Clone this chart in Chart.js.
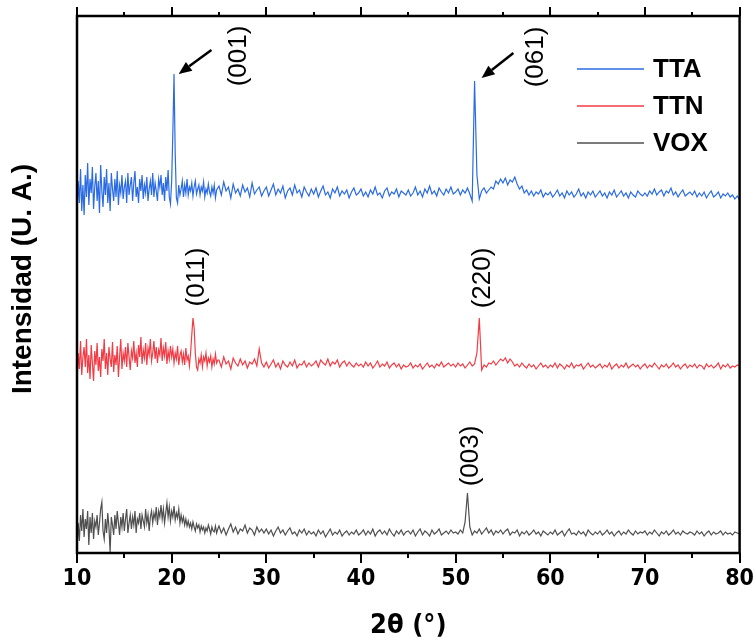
<!DOCTYPE html>
<html>
<head>
<meta charset="utf-8">
<script src="https://cdn.jsdelivr.net/npm/chart.js@4.4.1/dist/chart.umd.min.js"></script>
<style>
  html, body { margin: 0; padding: 0; background: #fff; }
  #wrap { width: 756px; height: 642px; }
</style>
</head>
<body>
<div id="wrap"><canvas id="cvs" width="756" height="642"></canvas></div>
<script>
// 2θ sampling: 0.125° from 10° to 24.875°, then 0.25° from 25° to 80°
const fineStart = 10, fineStep = 0.125, fineCount = 120;
const coarseStart = 25, coarseStep = 0.25;
const seriesNames  = ['TTA', 'TTN', 'VOX'];
const seriesColors = ['#2b6be2', '#f23c45', '#4f4f4f'];
const xTickLabels  = [10, 20, 30, 40, 50, 60, 70, 80];

// intensities (U. A.), stacked as in the figure
const ttaValues = [
  // 10 - 24.875 (0.125 step)
  335, 372, 350, 384, 342, 368, 338, 378,
  356, 390, 348, 374, 360, 386, 344, 366,
  380, 352, 372, 340, 388, 362, 346, 376,
  358, 384, 350, 370, 342, 380, 364, 352,
  374, 356, 382, 348, 368, 360, 378, 354,
  366, 372, 350, 380, 358, 368, 376, 352,
  370, 382, 356, 366, 350, 374, 362, 378,
  354, 368, 360, 376, 352, 364, 372, 358,
  380, 356, 370, 362, 352, 374, 366, 378,
  358, 370, 352, 376, 362, 383, 356, 349,
  372, 420, 479, 400, 355, 350, 368, 358,
  364, 372, 356, 368, 360, 374, 358, 366,
  362, 370, 357, 366, 372, 359, 364, 368,
  358, 366, 362, 371, 356, 364, 360, 369,
  361, 357, 366, 360, 368, 355, 363, 365,
  // 25 - 80 (0.25 step)
  367, 358, 371, 362, 366, 355, 369, 360, 364, 357, 368, 361, 365, 356, 370, 359, 363, 366, 357, 362,
  366, 357, 363, 369, 358, 364, 360, 367, 355, 362, 365, 358, 368, 360, 363, 356, 366, 361, 357, 364,
  359, 365, 356, 362, 367, 358, 361, 355, 364, 360, 366, 357, 362, 359, 363, 355, 361, 365, 358, 360,
  364, 357, 361, 356, 363, 359, 366, 358, 360, 355, 362, 365, 357, 361, 359, 364, 356, 362, 360, 358,
  363, 357, 360, 366, 358, 362, 356, 364, 360, 367, 359, 362, 357, 365, 361, 358, 364, 360, 366, 359,
  361, 364, 358, 363, 360, 365, 359, 352, 472, 378, 354, 362, 365, 360, 363, 366, 364, 372, 369, 374,
  370, 375, 368, 373, 371, 376, 369, 364, 367, 360, 363, 358, 362, 357, 361, 359, 363, 356, 360, 358,
  361, 356, 359, 363, 357, 360, 355, 362, 358, 361, 356, 359, 364, 357, 360, 355, 361, 358, 362, 356,
  359, 362, 357, 360, 355, 361, 358, 363, 356, 359, 362, 357, 360, 355, 361, 358, 356, 362, 359, 357,
  360, 357, 362, 359, 364, 358, 361, 363, 357, 362, 360, 365, 358, 361, 356, 360, 363, 357, 359, 361,
  358, 362, 356, 360, 357, 361, 355, 359, 362, 356, 358, 361, 355, 359, 357, 360, 356, 358, 354, 357,
  353
];
const ttnValues = [
  168, 200, 184, 212, 178, 196, 206, 186,
  214, 180, 198, 174, 208, 190, 172, 202,
  188, 210, 182, 196, 176, 204, 192, 214,
  184, 200, 178, 206, 194, 186, 211, 181,
  198, 188, 207, 176, 196, 214, 184, 200,
  192, 206, 186, 210, 196, 183, 202, 195,
  212, 190, 200, 186, 208, 196, 216, 189,
  203, 195, 210, 188, 205, 198, 214, 192,
  200, 212, 194, 206, 190, 203, 198, 215,
  192, 205, 197, 211, 189, 202, 194, 207,
  196, 204, 190, 200, 194, 207, 188, 198,
  202, 191, 199, 188, 205, 193, 197, 187,
  200, 218, 235, 225, 200, 186, 183, 194,
  190, 198, 186, 196, 192, 200, 187, 195,
  191, 197, 186, 194, 189, 199, 190, 193,
  193, 186, 196, 189, 192, 184, 195, 190, 187, 194, 188, 192, 185, 191, 189, 194, 187, 204, 190, 186,
  191, 185, 189, 193, 186, 190, 184, 192, 188, 186, 191, 187, 193, 185, 189, 188, 192, 186, 190, 187,
  189, 192, 186, 193, 190, 188, 194, 187, 191, 189, 193, 186, 190, 192, 187, 191, 188, 186, 190, 187,
  189, 186, 191, 187, 190, 185, 188, 192, 186, 189, 187, 191, 185, 188, 190, 186, 189, 184, 188, 186,
  187, 190, 185, 188, 186, 189, 184, 187, 190, 186, 188, 185, 189, 187, 191, 186, 188, 190, 187, 189,
  186, 190, 187, 189, 185, 188, 191, 187, 189, 200, 235, 183, 188, 186, 190, 189, 192, 188, 191, 194,
  192, 195, 190, 194, 191, 187, 189, 186, 190, 187, 185, 189, 186, 188, 184, 187, 190, 186, 188, 185,
  188, 186, 190, 185, 189, 187, 184, 188, 186, 190, 185, 188, 187, 189, 184, 187, 190, 186, 188, 185,
  187, 189, 185, 188, 186, 190, 184, 187, 189, 185, 188, 186, 190, 185, 187, 189, 186, 188, 184, 187,
  189, 185, 188, 186, 190, 187, 184, 188, 186, 189, 185, 187, 190, 186, 188, 184, 187, 189, 185, 188,
  186, 189, 185, 188, 187, 184, 189, 186, 188, 185, 187, 190, 184, 188, 186, 189, 185, 187, 186, 188,
  187
];
const voxValues = [
  2, 30, 12, 38, 22, 44, 16, 34,
  24, 42, 8, 36, 20, 40, 14, 32,
  26, 38, 18, 30, 44, 51, 22, 14,
  34, 20, 40, 26, 1, 36, 28, 18,
  38, 24, 42, 30, 18, 36, 26, 40,
  22, 34, 44, 20, 30, 38, 24, 36,
  28, 42, 20, 34, 30, 40, 24, 38,
  32, 26, 44, 30, 38, 22, 36, 42,
  30, 40, 34, 46, 28, 42, 36, 48,
  34, 44, 30, 40, 50, 36, 46, 32,
  42, 36, 47, 33, 40, 35, 44, 30,
  38, 31, 36, 28, 34, 27, 32, 26,
  30, 24, 31, 26, 22, 29, 25, 28,
  21, 27, 23, 26, 20, 25, 22, 28,
  24, 19, 26, 22, 21, 27, 20, 24,
  27, 20, 25, 18, 24, 29, 21, 26, 19, 24, 22, 28, 20, 25, 23, 18, 26, 21, 24, 20,
  24, 19, 23, 17, 22, 26, 20, 23, 18, 22, 25, 19, 21, 17, 23, 20, 24, 18, 22, 19,
  21, 17, 23, 19, 22, 16, 20, 24, 18, 21, 19, 23, 17, 20, 22, 18, 21, 19, 23, 18,
  20, 23, 18, 22, 19, 24, 17, 21, 23, 19, 22, 18, 24, 20, 17, 22, 19, 23, 18, 21,
  22, 19, 23, 17, 21, 24, 18, 22, 20, 17, 23, 19, 21, 24, 18, 20, 22, 19, 23, 20,
  21, 19, 23, 20, 31, 60, 26, 18, 22, 20, 24, 19, 22, 25, 20, 23, 18, 22, 20, 23,
  19, 22, 24, 18, 21, 20, 23, 17, 21, 19, 22, 18, 20, 23, 19, 21, 17, 22, 20, 18,
  21, 19, 23, 18, 20, 22, 17, 21, 24, 19, 20, 18, 22, 19, 21, 17, 23, 20, 18, 21,
  19, 22, 18, 20, 23, 19, 21, 17, 20, 22, 18, 21, 19, 23, 20, 18, 22, 19, 21, 20,
  22, 18, 21, 19, 23, 20, 17, 21, 19, 22, 18, 20, 23, 19, 21, 18, 22, 20, 19, 21,
  20, 18, 22, 19, 21, 17, 20, 22, 18, 21, 19, 20, 22, 18, 21, 19, 20, 18, 21, 20,
  19
];

// peak labels (Miller indices) and arrows, in data coordinates
const peakLabels = [
  { text: '(001)', x: 27.05, y: 497 },
  { text: '(061)', x: 58.42, y: 496 },
  { text: '(011)', x: 22.63, y: 276 },
  { text: '(220)', x: 52.84, y: 275 },
  { text: '(003)', x: 51.58, y: 97 }
];
const peakArrows = [
  { from: [24.2, 503], to: [20.74, 479] },
  { from: [56.1, 500], to: [52.74, 475] }
];

const narrow = '"Liberation Sans Narrow", "Arial Narrow", "DejaVu Sans Condensed", sans-serif';
const sans = '"Liberation Sans", Arial, sans-serif';

function angleAt(i) {
  return i < fineCount ? fineStart + i * fineStep : coarseStart + (i - fineCount) * coarseStep;
}
function toPoints(values) {
  return values.map((v, i) => ({ x: angleAt(i), y: v }));
}

const frameAndNotes = {
  id: 'frameAndNotes',
  afterDatasetsDraw(chart) {
    const ctx = chart.ctx, a = chart.chartArea;
    const xs = chart.scales.x, ys = chart.scales.y;
    ctx.save();
    // frame
    ctx.strokeStyle = '#000';
    ctx.lineWidth = 2.5;
    ctx.strokeRect(a.left, a.top, a.right - a.left, a.bottom - a.top);
    // ticks on bottom and top (outward)
    ctx.lineWidth = 2;
    for (let t = 10; t <= 80; t += 5) {
      const px = Math.round(xs.getPixelForValue(t));
      const major = t % 10 === 0;
      ctx.beginPath();
      ctx.moveTo(px, a.bottom);
      ctx.lineTo(px, a.bottom + (major ? 10 : 5));
      ctx.moveTo(px, a.top);
      ctx.lineTo(px, a.top - (major ? 9 : 4));
      ctx.stroke();
    }
    // peak labels
    ctx.fillStyle = '#000';
    ctx.font = '26px ' + sans;
    ctx.textAlign = 'center';
    ctx.textBaseline = 'middle';
    peakLabels.forEach(l => {
      ctx.save();
      ctx.translate(xs.getPixelForValue(l.x), ys.getPixelForValue(l.y));
      ctx.rotate(-Math.PI / 2);
      ctx.fillText(l.text, 0, 0);
      ctx.restore();
    });
    // arrows
    peakArrows.forEach(ar => {
      const x0 = xs.getPixelForValue(ar.from[0]), y0 = ys.getPixelForValue(ar.from[1]);
      const x1 = xs.getPixelForValue(ar.to[0]),   y1 = ys.getPixelForValue(ar.to[1]);
      const ang = Math.atan2(y1 - y0, x1 - x0), hl = 13, hw = 5.5;
      const bx = x1 - hl * Math.cos(ang), by = y1 - hl * Math.sin(ang);
      ctx.lineWidth = 2.5;
      ctx.beginPath();
      ctx.moveTo(x0, y0);
      ctx.lineTo(bx, by);
      ctx.stroke();
      ctx.beginPath();
      ctx.moveTo(x1, y1);
      ctx.lineTo(bx + hw * Math.sin(ang), by - hw * Math.cos(ang));
      ctx.lineTo(bx - hw * Math.sin(ang), by + hw * Math.cos(ang));
      ctx.closePath();
      ctx.fill();
    });
    // legend
    ctx.font = 'bold 26px ' + sans;
    ctx.textAlign = 'left';
    chart.data.datasets.forEach((ds, i) => {
      const y = a.top + 53 + i * 37;
      ctx.strokeStyle = ds.borderColor;
      ctx.lineWidth = 1.5;
      ctx.beginPath();
      ctx.moveTo(a.left + 500, y);
      ctx.lineTo(a.left + 567, y);
      ctx.stroke();
      ctx.fillStyle = '#000';
      ctx.fillText(ds.label, a.left + 576, y + 1);
    });
    // y axis title
    ctx.font = 'bold 28px ' + sans;
    ctx.textAlign = 'center';
    ctx.save();
    ctx.translate(23, 279);
    ctx.rotate(-Math.PI / 2);
    ctx.fillText('Intensidad (U. A.)', 0, 0);
    ctx.restore();
    ctx.restore();
  }
};

const valueSets = [ttaValues, ttnValues, voxValues];
new Chart(document.getElementById('cvs'), {
  type: 'line',
  data: {
    datasets: seriesNames.map((name, i) => ({
      label: name,
      data: toPoints(valueSets[i]),
      borderColor: seriesColors[i],
      borderWidth: 1.2,
      pointRadius: 0,
      tension: 0,
      fill: false
    }))
  },
  options: {
    responsive: false,
    animation: false,
    events: [],
    layout: { padding: { left: 77, right: 14, top: 16, bottom: 0 } },
    plugins: { legend: { display: false }, tooltip: { enabled: false } },
    scales: {
      x: {
        type: 'linear',
        min: 10,
        max: 80,
        afterFit: s => { s.height = 89; },
        afterBuildTicks: s => { s.ticks = xTickLabels.map(v => ({ value: v })); },
        grid: { display: true, drawOnChartArea: false, drawTicks: true, tickLength: 10, tickColor: 'transparent' },
        border: { display: false },
        ticks: {
          autoSkip: false,
          maxRotation: 0,
          padding: 2,
          color: '#000',
          font: { family: narrow, weight: 'bold', size: 23 }
        },
        title: {
          display: true,
          text: '2θ (°)',
          color: '#000',
          padding: { top: 16, bottom: 0 },
          font: { family: narrow, weight: 'bold', size: 27 }
        }
      },
      y: {
        display: false,
        min: 0,
        max: 537
      }
    }
  },
  plugins: [frameAndNotes]
});
</script>
</body>
</html>
